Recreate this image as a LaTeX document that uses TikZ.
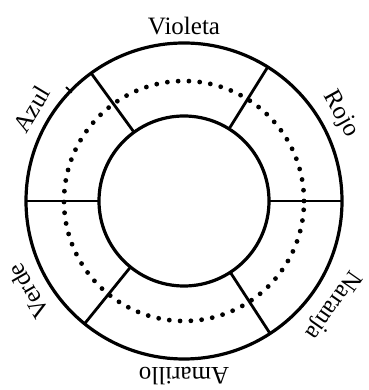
\documentclass[tikz,border=0pt]{standalone}
\usepackage{fontspec}
\setmainfont{Liberation Serif}
\usetikzlibrary{calc}
\begin{document}
\begin{tikzpicture}[x=1pt,y=1pt,
  ring/.style={line width=3.2pt},
  divider/.style={line width=2.8pt},
  dotring/.style={line width=4.8pt, line cap=round, dash pattern=on 0pt off 10.8pt},
  lab/.style={font=\fontsize{25}{28}\selectfont, inner sep=0pt}]
\useasboundingbox (0,0) rectangle (368,390);
\coordinate (c) at (184,189);
\draw[ring] (c) circle[radius=158];
\draw[ring] (c) circle[radius=85];
\draw[dotring] (c) circle[radius=120];
\foreach \a in {0,58,126,180,231,303}
  \draw[divider] ($(c)+(\a:85)$) -- ($(c)+(\a:158)$);
\draw[line width=1.8pt] ($(c)+(136:156)$) -- ($(c)+(136:164)$);
\node[lab, rotate=0]   (vi) at ($(c)+(90:175)$)  {Violeta};
\node[lab, rotate=-61] (ro) at ($(c)+(29:179)$)  {Rojo};
\node[lab, rotate=-125](na) at ($(c)+(-35:181)$) {Naranja};
\node[lab, rotate=180] (am) at ($(c)+(-90:175)$) {Amarillo};
\node[lab, rotate=120] (ve) at ($(c)+(210:180)$) {Verde};
\node[lab, rotate=59]  (az) at ($(c)+(149:178)$) {Azul};
\end{tikzpicture}
\end{document}
